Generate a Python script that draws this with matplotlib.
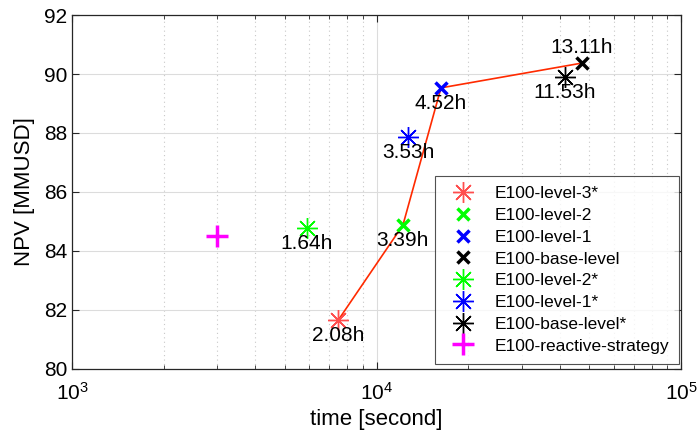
import matplotlib.pyplot as plt
import numpy as np

plt.rcParams['font.family'] = ['Liberation Sans', 'DejaVu Sans']

# Données : temps de calcul (heures) et NPV (MMUSD)
noms = ['E100-level-3*', 'E100-level-2', 'E100-level-1', 'E100-base-level',
        'E100-level-2*', 'E100-level-1*', 'E100-base-level*', 'E100-reactive-strategy']
heures = [2.08, 3.39, 4.52, 13.11, 1.64, 3.53, 11.53, 0.83]
npv = [81.66, 84.88, 89.53, 90.37, 84.78, 87.86, 89.90, 84.52]
etiquettes = ['2.08h', '3.39h', '4.52h', '13.11h', '1.64h', '3.53h', '11.53h', None]
couleurs = ['#ff4d4d', '#00ff00', '#0000ff', '#000000', '#00ff00', '#0000ff', '#000000', '#ff00ff']
marqueurs = ['*', 'x', 'x', 'x', '*', '*', '*', '+']

# Front (ligne rouge) : level-3*, level-2, level-1, base-level
front = [0, 1, 2, 3]

secondes = np.array(heures) * 3600

fig = plt.figure(figsize=(6.97, 4.4), dpi=100)
ax = fig.add_axes([0.1033, 0.1614, 0.874, 0.8045])

ax.plot(secondes[front], np.array(npv)[front], color='#ff2a00', linewidth=1.2, zorder=2)

styles_marqueur = {'*': dict(marker=(8, 2, 0), markersize=15, markeredgewidth=1.0),
                   'x': dict(marker='x', markersize=9, markeredgewidth=2.5),
                   '+': dict(marker='+', markersize=16, markeredgewidth=2.5)}

for i, nom in enumerate(noms):
    ax.plot(secondes[i], npv[i], linestyle='None', color=couleurs[i],
            markeredgecolor=couleurs[i], label=nom, zorder=3, **styles_marqueur[marqueurs[i]])

# Étiquettes des temps
for i, txt in enumerate(etiquettes):
    if txt is None:
        continue
    if txt == '13.11h':
        ax.text(secondes[i], npv[i] + 0.2, txt, ha='center', va='bottom', fontsize=15)
    else:
        ax.text(secondes[i], npv[i] - 0.2, txt, ha='center', va='top', fontsize=15)

ax.set_xscale('log')
ax.set_xlim(1e3, 1e5)
ax.set_ylim(80, 92)
ax.set_yticks(np.arange(80, 93, 2))
ax.set_xlabel('time [second]', fontsize=16, labelpad=4)
ax.set_ylabel('NPV [MMUSD]', fontsize=16, labelpad=6)

ax.grid(True, which='major', color='#dcdcdc', linewidth=0.8)
ax.grid(True, which='minor', axis='x', color='#c8c8c8', linestyle=(0, (1, 3)), linewidth=0.8)
ax.set_axisbelow(True)
ax.tick_params(which='both', direction='in', top=True, right=True, labelsize=15, color='#262626')
ax.tick_params(axis='x', which='major', pad=9)
ax.tick_params(which='major', length=5)
ax.tick_params(which='minor', length=3)
for s in ax.spines.values():
    s.set_color('#262626')
    s.set_linewidth(0.9)

leg = ax.legend(loc='lower right', bbox_to_anchor=(0.9967, 0.0141), borderaxespad=0, fontsize=12.5,
                frameon=True, fancybox=False, edgecolor='#262626', handlelength=2.0, borderpad=0.6,
                labelspacing=0.38, handletextpad=0.8)
leg.get_frame().set_linewidth(0.8)

plt.savefig('out.png', dpi=100)
plt.close()
